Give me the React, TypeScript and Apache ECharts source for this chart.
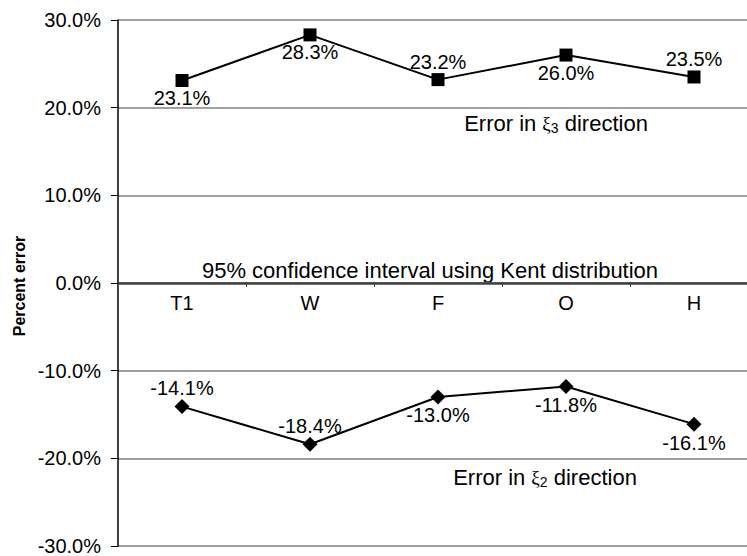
import React, { useEffect, useRef } from "react";
import * as echarts from "echarts";

const categories = ["T1", "W", "F", "O", "H"];
const xi3Values = [23.1, 28.3, 23.2, 26.0, 23.5];
const xi3LabelPos = ["bottom", "bottom", "top", "bottom", "top"];
const xi2Values = [-14.1, -18.4, -13.0, -11.8, -16.1];
const xi2LabelPos = ["top", "top", "bottom", "bottom", "bottom"];
const yMin = -30;
const yMax = 30;
const yStep = 10;

const FONT = "'Liberation Sans', Arial, sans-serif";

const GRID_TOP = 20;
const GRID_BOTTOM = 10;
const CHART_H = 556;

export default function App() {
  const ref = useRef<HTMLDivElement>(null);
  useEffect(() => {
    if (!ref.current) return;
    const chart = echarts.init(ref.current, undefined, { renderer: "svg" });
    const mkData = (vals: number[], pos: string[]) =>
      vals.map((v, i) => ({
        value: v,
        label: { position: pos[i] },
      }));
    const labelCommon = {
      show: true,
      distance: 1,
      color: "#000",
      fontFamily: FONT,
      fontSize: 20,
      formatter: (p: any) => p.value.toFixed(1) + "%",
    };
    const xiRich = {
      xi: { fontFamily: "'Liberation Serif', 'DejaVu Serif', serif", fontSize: 19, color: "#000" },
      sub: { fontFamily: FONT, fontSize: 14, color: "#000", verticalAlign: "bottom", padding: [9, 0, 0, 0] },
      n: { fontFamily: FONT, fontSize: 22, color: "#000" },
    };
    // offset of the category axis from the bottom edge to the zero line
    const gridH = CHART_H - GRID_TOP - GRID_BOTTOM;
    const zeroOffset = -gridH * ((0 - yMin) / (yMax - yMin));
    chart.setOption({
      animation: false,
      backgroundColor: "#fff",
      grid: {
        left: 118,
        right: -11,
        top: GRID_TOP,
        bottom: GRID_BOTTOM,
        containLabel: false,
        outerBoundsMode: "none",
      },
      xAxis: {
        type: "category",
        data: categories,
        boundaryGap: true,
        position: "bottom",
        offset: zeroOffset,
        axisLine: { onZero: false, lineStyle: { color: "#404040", width: 2.5 } },
        axisTick: { show: true, length: 4, inside: false, lineStyle: { color: "#404040", width: 1 } },
        axisLabel: { color: "#000", fontFamily: FONT, fontSize: 20, margin: 10 },
        splitLine: { show: false },
      },
      yAxis: {
        type: "value",
        min: yMin,
        max: yMax,
        interval: yStep,
        axisLine: { show: true, onZero: false, lineStyle: { color: "#000", width: 1.5 } },
        axisTick: { show: true, length: 7, lineStyle: { color: "#000", width: 1 } },
        axisLabel: {
          color: "#000",
          fontFamily: FONT,
          fontSize: 20,
          margin: 17,
          formatter: (v: number) => v.toFixed(1) + "%",
        },
        splitLine: { show: true, lineStyle: { color: "#7f7f7f", width: 1.5 } },
      },
      series: [
        {
          name: "xi3",
          type: "line",
          data: mkData(xi3Values, xi3LabelPos),
          symbol: "rect",
          symbolSize: 13,
          itemStyle: { color: "#000" },
          lineStyle: { color: "#000", width: 2 },
          label: labelCommon,
        },
        {
          name: "xi2",
          type: "line",
          data: mkData(xi2Values, xi2LabelPos),
          symbol: "diamond",
          symbolSize: 15,
          itemStyle: { color: "#000" },
          lineStyle: { color: "#000", width: 2 },
          label: labelCommon,
        },
      ],
      graphic: [
        {
          type: "text",
          x: 19,
          y: 286,
          rotation: Math.PI / 2,
          style: {
            text: "Percent error",
            fontFamily: FONT,
            fontSize: 16,
            fontWeight: "bold",
            fill: "#000",
            align: "center",
            verticalAlign: "middle",
          },
        },
        {
          type: "text",
          x: 556,
          y: 123,
          style: {
            text: "{n|Error in }{xi|ξ}{sub|3}{n| direction}",
            rich: xiRich,
            align: "center",
            verticalAlign: "middle",
          },
        },
        {
          type: "text",
          x: 430,
          y: 270,
          style: {
            text: "95% confidence interval using Kent distribution",
            fontFamily: FONT,
            fontSize: 22,
            fill: "#000",
            align: "center",
            verticalAlign: "middle",
          },
        },
        {
          type: "text",
          x: 545,
          y: 477,
          style: {
            text: "{n|Error in }{xi|ξ}{sub|2}{n| direction}",
            rich: xiRich,
            align: "center",
            verticalAlign: "middle",
          },
        },
      ],
    });
    return () => chart.dispose();
  }, []);
  return (
    <div
      ref={ref}
      style={{ position: "absolute", left: 0, top: 0, width: 747, height: CHART_H, background: "#fff" }}
    />
  );
}
